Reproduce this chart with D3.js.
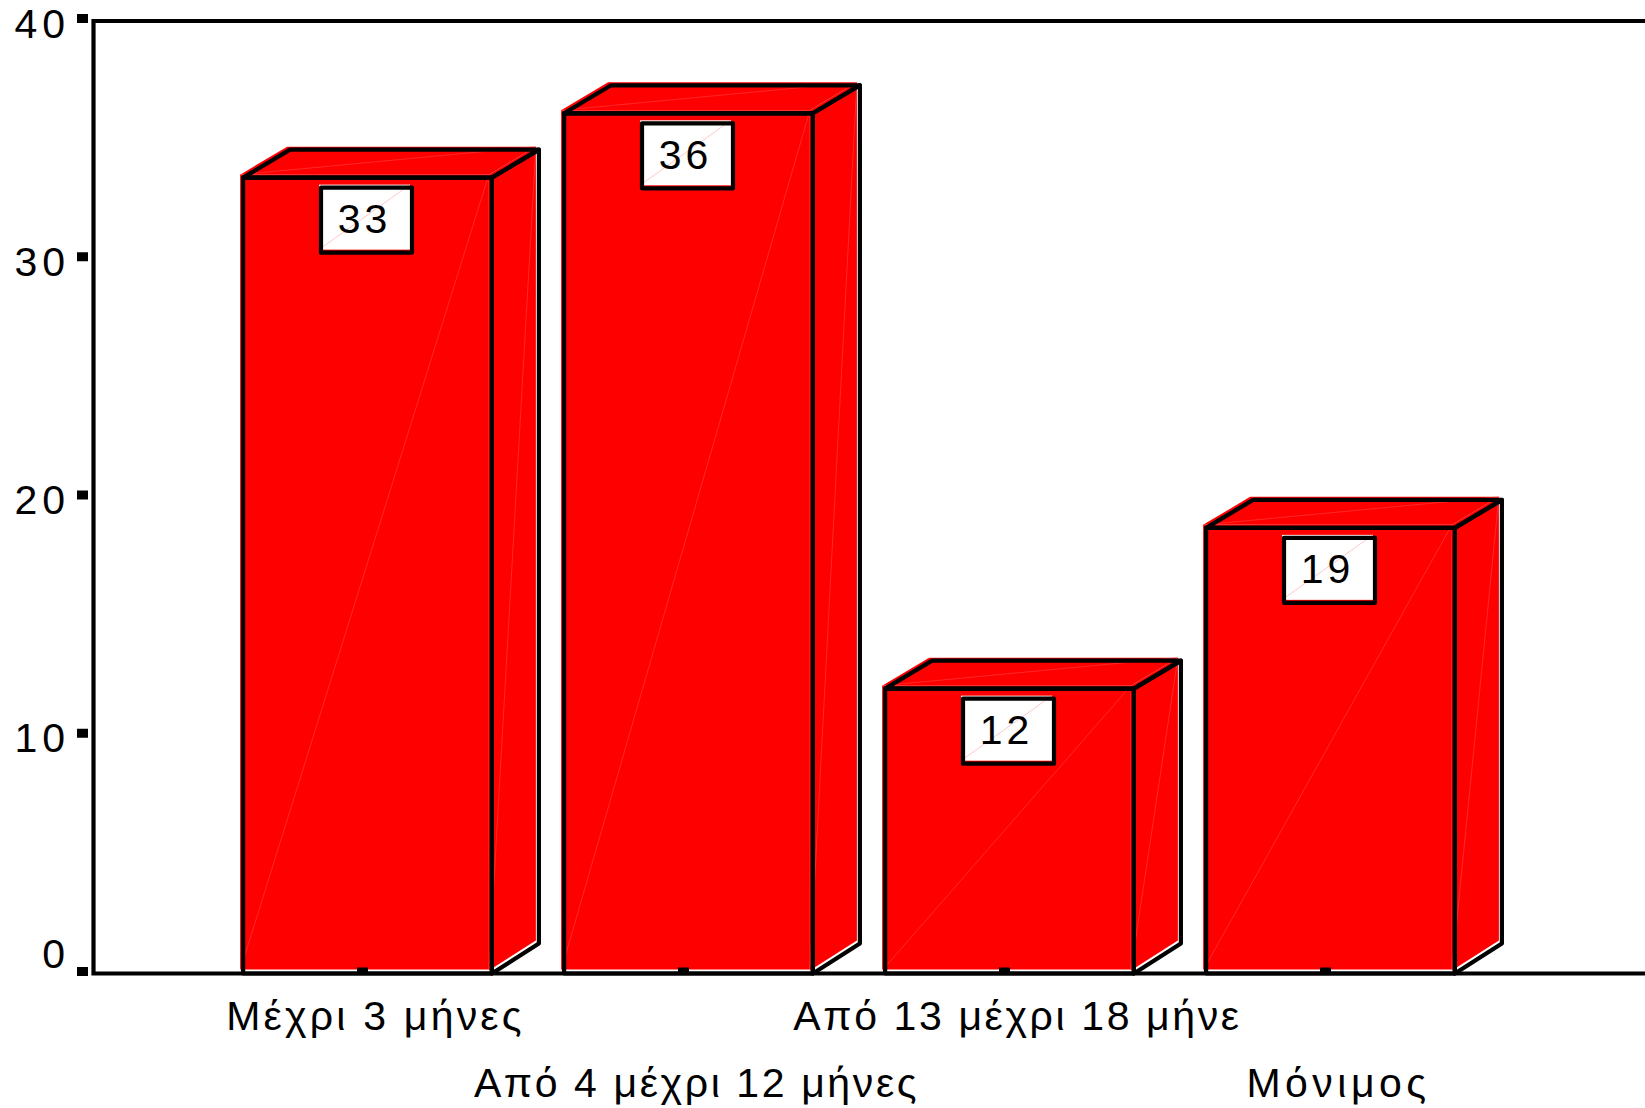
<!DOCTYPE html>
<html>
<head>
<meta charset="utf-8">
<style>
html, body { margin: 0; padding: 0; background: #fff; }
svg { display: block; }
text { font-family: "Liberation Sans", Arial, sans-serif; fill: #000; }
</style>
</head>
<body>
<script src="https://cdnjs.cloudflare.com/ajax/libs/d3/7.8.5/d3.min.js"></script>
<script>
var categories = ["Μέχρι 3 μήνες", "Από 4 μέχρι 12 μήνες", "Από 13 μέχρι 18 μήνε", "Μόνιμος"];
var values = [33.3, 36.0, 11.85, 18.6];
var valueLabels = ["33", "36", "12", "19"];
var yTicks = [0, 10, 20, 30, 40];

var width = 1645, height = 1108;
var baseY = 973.5, leftX = 93.5, topY = 21;
var depthX = 47, depthY = -28;   // fake 3d offset of the bars
var shift = -3;                  // red faces sit a bit off the black outline
var lineW = 4.2;

var svg = d3.select("body").append("svg")
    .attr("width", width)
    .attr("height", height);

var x = d3.scaleBand()
    .domain(categories)
    .range([207, 1491])
    .paddingInner(0.225)
    .paddingOuter(0.1125);

var y = d3.scaleLinear()
    .domain([0, 40])
    .range([971, 18]);

// frame, open on the right
svg.append("path")
    .attr("d", "M" + width + "," + topY + "H" + leftX + "V" + baseY + "H" + width)
    .attr("fill", "none")
    .attr("stroke", "#000")
    .attr("stroke-width", lineW);

// y axis: little black squares as ticks
var yAxis = svg.append("g")
    .attr("transform", "translate(88,0)")
    .call(d3.axisLeft(y).tickValues(yTicks).tickSize(11).tickPadding(14));
yAxis.select(".domain").remove();
yAxis.selectAll("line").attr("stroke", "#000").attr("stroke-width", 9);
yAxis.selectAll("text")
    .attr("font-size", 41)
    .attr("letter-spacing", 5)
    .attr("dy", function(d) { return d === 0 ? -4 : 19; })
    .attr("x", -18)
    .attr("fill", "#000");

var bars = svg.selectAll(".bar")
    .data(categories)
    .enter()
    .append("g")
    .attr("class", "bar");

function pts(a) {
    return a.map(function(p) { return p.join(","); }).join(" ");
}

// faces of the box, same points for red fill and for the outline
function faces(d, i) {
    var x0 = x(d), x1 = x(d) + x.bandwidth(), t = y(values[i]), b = baseY;
    return {
        front: [[x0, t], [x1, t], [x1, b], [x0, b]],
        top: [[x0, t], [x0 + depthX, t + depthY], [x1 + depthX, t + depthY], [x1, t]],
        side: [[x1, t], [x1 + depthX, t + depthY], [x1 + depthX, b + depthY - 2], [x1, b]]
    };
}

["front", "top", "side"].forEach(function(face) {
    bars.append("polygon")
        .attr("points", function(d, i) { return pts(faces(d, i)[face]); })
        .attr("transform", "translate(" + shift + "," + shift + ")")
        .attr("fill", "#ff0000");
    // thin seams where the polygons were split into triangles
    bars.append("line")
        .attr("x1", function(d, i) { return faces(d, i)[face][face === "top" ? 0 : 3][0]; })
        .attr("y1", function(d, i) { return faces(d, i)[face][face === "top" ? 0 : 3][1]; })
        .attr("x2", function(d, i) { return faces(d, i)[face][face === "top" ? 2 : 1][0]; })
        .attr("y2", function(d, i) { return faces(d, i)[face][face === "top" ? 2 : 1][1]; })
        .attr("transform", "translate(" + shift + "," + shift + ")")
        .attr("stroke", "#ff5050")
        .attr("stroke-width", 0.5);
});

// white line between the red front and the base line
bars.append("line")
    .attr("x1", function(d) { return x(d) + shift; })
    .attr("x2", function(d) { return x(d) + x.bandwidth() + shift; })
    .attr("y1", baseY - 3.2)
    .attr("y2", baseY - 3.2)
    .attr("stroke", "#fff")
    .attr("stroke-width", 1.5);

["front", "top", "side"].forEach(function(face) {
    bars.append("polygon")
        .attr("points", function(d, i) { return pts(faces(d, i)[face]); })
        .attr("fill", "none")
        .attr("stroke", "#000")
        .attr("stroke-width", lineW)
        .attr("stroke-linejoin", "round");
});

// x axis ticks and staggered labels, on top of the bars
var xAxis = svg.append("g")
    .attr("transform", "translate(-5," + baseY + ")")
    .call(d3.axisBottom(x).tickSize(-6));
xAxis.select(".domain").remove();
xAxis.selectAll("line").attr("stroke", "#000").attr("stroke-width", 11);
xAxis.selectAll("text")
    .attr("font-size", 41)
    .attr("letter-spacing", function(d) {
        if (d.length > 15) return 2.6;
        return d.length > 10 ? 3.2 : 4.5;
    })
    .attr("x", 13)
    .attr("y", function(d, i) { return i % 2 === 0 ? 56 : 123; })
    .attr("dy", 0)
    .attr("fill", "#000");

// value boxes
var boxW = 91, boxH = 65, boxGap = 10;
var cx = function(d) { return x(d) + x.bandwidth() / 2; };

bars.append("rect")
    .attr("x", function(d) { return cx(d) - boxW / 2 + shift; })
    .attr("y", function(d, i) { return y(values[i]) + boxGap + shift; })
    .attr("width", boxW)
    .attr("height", boxH)
    .attr("fill", "#fff");

bars.append("line")
    .attr("x1", function(d) { return cx(d) - boxW / 2 + shift; })
    .attr("y1", function(d, i) { return y(values[i]) + boxGap + shift + boxH; })
    .attr("x2", function(d) { return cx(d) + boxW / 2 + shift; })
    .attr("y2", function(d, i) { return y(values[i]) + boxGap + shift; })
    .attr("stroke", "#ffb0b0")
    .attr("stroke-width", 0.7);

bars.append("rect")
    .attr("x", function(d) { return cx(d) - boxW / 2 - 1; })
    .attr("y", function(d, i) { return y(values[i]) + boxGap; })
    .attr("width", boxW)
    .attr("height", boxH)
    .attr("fill", "none")
    .attr("stroke", "#000")
    .attr("stroke-width", lineW)
    .attr("stroke-linejoin", "round");

bars.append("text")
    .attr("x", function(d) { return cx(d) - 3; })
    .attr("y", function(d, i) { return y(values[i]) + boxGap + boxH / 2 + 13; })
    .attr("text-anchor", "middle")
    .attr("font-size", 41)
    .attr("letter-spacing", 4)
    .text(function(d, i) { return valueLabels[i]; });
</script>
</body>
</html>
